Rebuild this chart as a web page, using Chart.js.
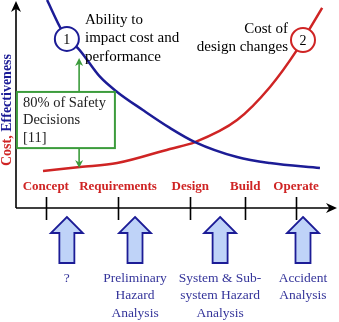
<!DOCTYPE html>
<html><head><meta charset="utf-8">
<script src="https://cdn.jsdelivr.net/npm/chart.js@4/dist/chart.umd.min.js"></script>
<style>html,body{margin:0;padding:0;background:#fff}canvas{display:block}</style>
</head><body>
<canvas id="c" width="339" height="322" style="width:339px;height:322px"></canvas>
<script>
// ---- data ----
const phases = ['Concept', 'Requirements', 'Design', 'Build', 'Operate'];
const phaseTicks = [9.5, 32.5, 55.5, 73, 89.2];
const effX = [9.9, 14.0, 16.2, 19.7, 26.8, 32.2, 40.4, 49.0, 57.0, 70.4, 80.9, 96.8];
const effY = [100, 87.0, 81.3, 76.9, 63.0, 55.8, 47.1, 38.5, 31.7, 24.5, 21.6, 19.2];
const costX = [8.6, 20.4, 32.2, 49.0, 57.0, 70.4, 80.9, 89.5, 91.4, 97.5];
const costY = [17.8, 19.7, 21.6, 28.4, 31.7, 42.3, 58.2, 76.0, 80.8, 96.2];
const markerLabels = ['1', '2'];
const markerX = [16.2, 91.4];
const markerY = [81.3, 80.8];
const analysisX = [16.2, 37.9, 65.0, 91.4];
const analysisLabels = [['?'], ['Preliminary', 'Hazard', 'Analysis'], ['System & Sub-', 'system Hazard', 'Analysis'], ['Accident', 'Analysis']];
const effText = ['Ability to', 'impact cost and', 'performance'];
const costText = ['Cost of', 'design changes'];
const boxText = ['80% of Safety', 'Decisions', '[11]'];
const boxRange = {x0: 0.3, x1: 31.5, y0: 28.8, y1: 55.8};
const boxArrow = {x: 20.1, top: 72.1, bottom: 19.2};

const BLUE = '#1c1c96', RED = '#cf2424', GREEN = '#3c9c3c', TXTBLUE = '#34349a';
const SERIF = '"Liberation Serif", "DejaVu Serif", serif';

function pts(xs, ys) { return xs.map((x, i) => ({x, y: ys[i]})); }

function arrowHead(ctx, tx, ty, dir, len, half) {
  ctx.save();
  ctx.translate(tx, ty);
  ctx.rotate(dir);
  ctx.beginPath();
  ctx.moveTo(0, 0);
  ctx.lineTo(-len, -half);
  ctx.lineTo(-len * 0.7, 0);
  ctx.lineTo(-len, half);
  ctx.closePath();
  ctx.fill();
  ctx.restore();
}

const overlay = {
  id: 'overlay',
  beforeDatasetsDraw(chart) {
    const {ctx, chartArea: a, scales: {x, y}} = chart;
    ctx.save();
    ctx.strokeStyle = '#000'; ctx.fillStyle = '#000'; ctx.lineWidth = 1.6;
    // axes
    ctx.beginPath();
    ctx.moveTo(a.left, a.bottom); ctx.lineTo(a.left, 6);
    ctx.moveTo(a.left, a.bottom); ctx.lineTo(332, a.bottom);
    ctx.stroke();
    arrowHead(ctx, a.left, 1, -Math.PI / 2, 11, 5);
    arrowHead(ctx, 337, a.bottom, 0, 11, 5);
    // ticks
    ctx.beginPath();
    phaseTicks.forEach(v => {
      const px = Math.round(x.getPixelForValue(v)) + 0.5;
      ctx.moveTo(px, a.bottom - 11); ctx.lineTo(px, a.bottom + 12);
    });
    ctx.stroke();
    // phase labels
    ctx.fillStyle = RED;
    ctx.font = 'bold 13px ' + SERIF;
    ctx.textAlign = 'center'; ctx.textBaseline = 'middle';
    phases.forEach((p, i) => ctx.fillText(p, x.getPixelForValue(phaseTicks[i]), a.bottom - 21));
    // y axis title
    ctx.save();
    ctx.translate(7, 110);
    ctx.rotate(-Math.PI / 2);
    ctx.font = 'bold 14px ' + SERIF;
    const t1 = 'Cost, ', t2 = 'Effectiveness';
    const w1 = ctx.measureText(t1).width, w2 = ctx.measureText(t2).width;
    ctx.textAlign = 'left';
    ctx.fillStyle = RED; ctx.fillText(t1, -(w1 + w2) / 2, 0);
    ctx.fillStyle = BLUE; ctx.fillText(t2, -(w1 + w2) / 2 + w1, 0);
    ctx.restore();
    // block arrows
    ctx.lineWidth = 1.8; ctx.strokeStyle = BLUE; ctx.fillStyle = '#bfd3f8';
    analysisX.forEach(v => {
      const cx = x.getPixelForValue(v), tip = a.bottom + 9, hb = a.bottom + 25, bot = a.bottom + 55;
      ctx.beginPath();
      ctx.moveTo(cx, tip);
      ctx.lineTo(cx + 16, hb); ctx.lineTo(cx + 7.5, hb); ctx.lineTo(cx + 7.5, bot);
      ctx.lineTo(cx - 7.5, bot); ctx.lineTo(cx - 7.5, hb); ctx.lineTo(cx - 16, hb);
      ctx.closePath(); ctx.fill(); ctx.stroke();
    });
    // analysis labels
    ctx.fillStyle = TXTBLUE; ctx.font = '13.5px ' + SERIF; ctx.textAlign = 'center';
    analysisLabels.forEach((lines, i) => {
      lines.forEach((t, j) => ctx.fillText(t, x.getPixelForValue(analysisX[i]), a.bottom + 70 + j * 17.5));
    });
    ctx.restore();
  },
  afterDatasetsDraw(chart) {
    const {ctx, chartArea: a, scales: {x, y}} = chart;
    ctx.save();
    // marker numbers
    ctx.fillStyle = '#000'; ctx.font = '14px ' + SERIF; ctx.textAlign = 'center'; ctx.textBaseline = 'middle';
    markerLabels.forEach((t, i) => ctx.fillText(t, x.getPixelForValue(markerX[i]), y.getPixelForValue(markerY[i]) + 1));
    // annotations
    ctx.font = '15px ' + SERIF; ctx.textAlign = 'left';
    effText.forEach((t, i) => ctx.fillText(t, 85, 20 + i * 18.5));
    ctx.textAlign = 'right';
    costText.forEach((t, i) => ctx.fillText(t, 288, 29 + i * 18));
    // green box
    const bx0 = x.getPixelForValue(boxRange.x0), bx1 = x.getPixelForValue(boxRange.x1);
    const by0 = y.getPixelForValue(boxRange.y1), by1 = y.getPixelForValue(boxRange.y0);
    ctx.fillStyle = '#fff'; ctx.fillRect(bx0, by0, bx1 - bx0, by1 - by0);
    ctx.strokeStyle = GREEN; ctx.lineWidth = 2;
    ctx.strokeRect(bx0, by0, bx1 - bx0, by1 - by0);
    const ax = x.getPixelForValue(boxArrow.x);
    const at = y.getPixelForValue(boxArrow.top), ab = y.getPixelForValue(boxArrow.bottom);
    ctx.lineWidth = 1.6;
    ctx.beginPath();
    ctx.moveTo(ax, by0); ctx.lineTo(ax, at + 5);
    ctx.moveTo(ax, by1); ctx.lineTo(ax, ab - 5);
    ctx.stroke();
    ctx.fillStyle = GREEN;
    arrowHead(ctx, ax, at, -Math.PI / 2, 8, 4);
    arrowHead(ctx, ax, ab, Math.PI / 2, 8, 4);
    ctx.fillStyle = '#222'; ctx.font = '14.5px ' + SERIF; ctx.textAlign = 'left';
    boxText.forEach((t, i) => ctx.fillText(t, bx0 + 6, by0 + 11 + i * 17.5));
    ctx.restore();
  }
};

new Chart(document.getElementById('c'), {
  type: 'scatter',
  data: {
    datasets: [
      {data: [{x: markerX[0], y: markerY[0]}], order: 0, pointRadius: 12, pointBackgroundColor: '#fff', pointBorderColor: BLUE, pointBorderWidth: 2},
      {data: [{x: markerX[1], y: markerY[1]}], order: 0, pointRadius: 12, pointBackgroundColor: '#fff', pointBorderColor: RED, pointBorderWidth: 2},
      {data: pts(effX, effY), order: 1, showLine: true, borderColor: BLUE, borderWidth: 2.5, pointRadius: 0, cubicInterpolationMode: 'monotone', fill: false},
      {data: pts(costX, costY), order: 1, showLine: true, borderColor: RED, borderWidth: 2.5, pointRadius: 0, cubicInterpolationMode: 'monotone', fill: false}
    ]
  },
  options: {
    responsive: false, animation: false, devicePixelRatio: 1,
    layout: {autoPadding: false, padding: {left: 16, right: 9, top: 0, bottom: 114}},
    plugins: {legend: {display: false}, tooltip: {enabled: false}, title: {display: false}},
    scales: {
      x: {type: 'linear', min: 0, max: 100, display: false},
      y: {type: 'linear', min: 0, max: 100, display: false}
    },
    clip: false
  },
  plugins: [overlay]
});
</script>
</body></html>
